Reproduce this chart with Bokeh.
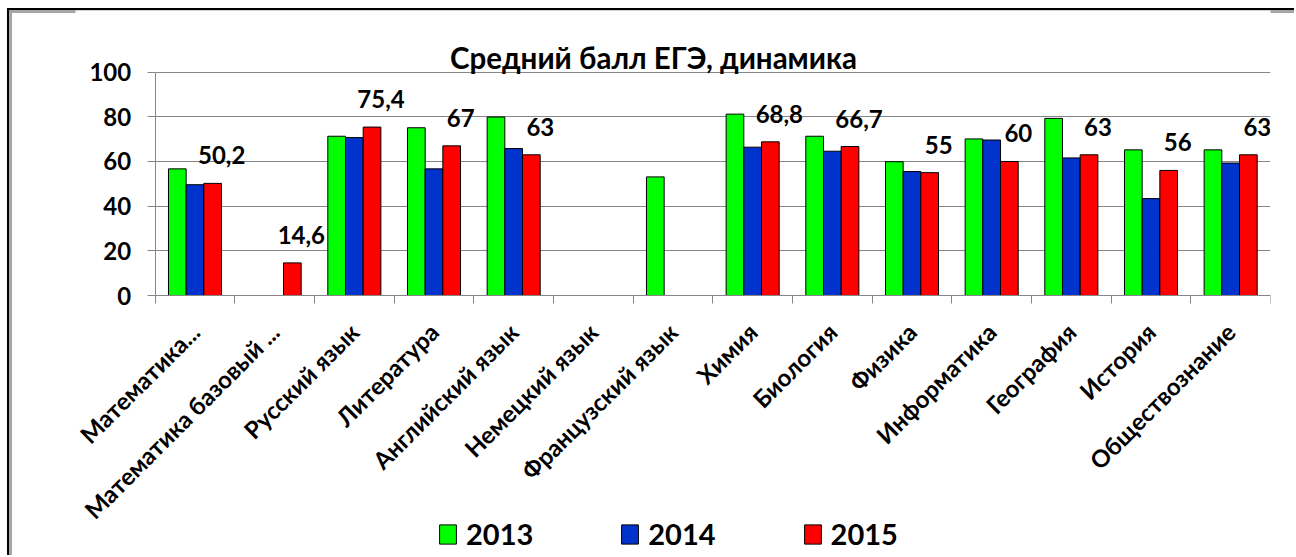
import math
import numpy as np
from bokeh.plotting import figure
from bokeh.models import (ColumnDataSource, Range1d, LinearAxis, FixedTicker, Legend, LegendItem,
                          Label)
from bokeh.transform import dodge
from bokeh.core.properties import value
from bokeh.embed import file_html
from bokeh.resources import INLINE

NaN = float("nan")

# ---- data ----
subjects = ["Математика...", "Математика базовый ...", "Русский язык", "Литература",
            "Английский язык", "Немецкий язык", "Французский язык", "Химия", "Биология",
            "Физика", "Информатика", "География", "История", "Обществознание"]
scores_2013 = [56.7, NaN, 71.3, 75.1, 79.9, NaN, 53.1, 81.2, 71.3, 59.9, 70.1, 79.3, 65.2, 65.2]
scores_2014 = [49.6, NaN, 70.7, 56.7, 65.8, NaN, NaN, 66.4, 64.6, 55.5, 69.6, 61.6, 43.4, 59.3]
scores_2015 = [50.2, 14.6, 75.4, 67, 63, NaN, NaN, 68.8, 66.7, 55, 60, 63, 56, 63]
years = ["2013", "2014", "2015"]
y_ticks = [0, 20, 40, 60, 80, 100]
title_text = "Средний балл ЕГЭ,  динамика"

FONT = "Lato"
GRAY = "#868686"
colors = ["#00FF00", "#0033CC", "#FF0000"]

n = len(subjects)
positions = list(range(1, n + 1))             # category slots 1..n
edges = [k + 0.5 for k in range(n + 1)]        # slot boundaries
labels_2015 = ["" if math.isnan(v) else f"{v:g}".replace(".", ",") for v in scores_2015]

src = ColumnDataSource(dict(
    pos=np.array(positions, dtype=float),
    subject=subjects,
    y2013=np.array(scores_2013, dtype=float),
    y2014=np.array(scores_2014, dtype=float),
    y2015=np.array(scores_2015, dtype=float),
    label2015=labels_2015,
))

# the frame fills the canvas; axes sit at value 0 / first slot boundary, so the
# title, rotated category labels and the legend are all drawn inside it
p = figure(x_range=Range1d(edges[0] - 1, edges[-1]), y_range=Range1d(-117.3, 127.6),
           width=1287, height=547, output_backend="svg", toolbar_location=None,
           x_axis_location=None,
           min_border_left=66, min_border_right=26, min_border_top=0, min_border_bottom=0,
           border_fill_color=None, outline_line_color=None)

p.styles = {"margin-left": "7px", "margin-top": "8px",
            "border-top": "2px solid #000", "border-left": "2px solid #000",
            "box-shadow": "inset 3px 3px 0 #a6a6a6"}

# y axis (at the first slot boundary, covering 0..100)
p.yaxis.fixed_location = edges[0]
p.yaxis.ticker = FixedTicker(ticks=y_ticks)
p.yaxis.bounds = (0, 100)
p.yaxis.major_tick_out = 8
p.yaxis.major_tick_in = 0
p.yaxis.minor_tick_out = 0
p.yaxis.minor_tick_in = 0
p.yaxis.axis_line_color = GRAY
p.yaxis.major_tick_line_color = GRAY
p.yaxis.major_label_standoff = 16
p.yaxis.major_label_text_font = FONT
p.yaxis.major_label_text_font_style = "bold"
p.yaxis.major_label_text_font_size = "24px"
p.yaxis.major_label_text_color = "black"
p.xgrid.grid_line_color = None
p.ygrid.grid_line_color = GRAY
try:
    p.ygrid.cross_bounds = (edges[0], edges[-1])
except Exception:
    p.ygrid.grid_line_color = None
    p.segment(x0=edges[0], x1=edges[-1], y0=y_ticks, y1=y_ticks,
              line_color=GRAY, line_width=1, level="underlay")

# x axis at value 0: boundary ticks + category labels
edge_axis = LinearAxis(ticker=FixedTicker(ticks=edges), fixed_location=0,
                       bounds=(edges[0], edges[-1]),
                       major_label_overrides={e: "" for e in edges},
                       major_label_text_font_size="0px", major_label_standoff=0,
                       major_tick_out=8, major_tick_in=0, minor_tick_out=0, minor_tick_in=0,
                       axis_line_color=GRAY, major_tick_line_color=GRAY)
cat_axis = LinearAxis(ticker=FixedTicker(ticks=positions), fixed_location=0,
                      major_label_overrides=dict(zip(positions, subjects)),
                      major_tick_out=0, major_tick_in=0, minor_tick_out=0, minor_tick_in=0,
                      axis_line_color=None, major_tick_line_color=None,
                      major_label_orientation=math.pi / 4, major_label_standoff=32,
                      major_label_text_font=FONT, major_label_text_font_style="bold",
                      major_label_text_font_size="24px", major_label_text_color="black")
p.add_layout(edge_axis, "below")
p.add_layout(cat_axis, "below")

# title
p.add_layout(Label(x=6.80, y=106.7, text=title_text, text_align="center",
                   text_baseline="middle", text_font=FONT, text_font_style="bold",
                   text_font_size="29.5px", text_color="black"))

# bars
bar_w = 0.222
renderers = []
for i, yr in enumerate(years):
    r = p.vbar(x=dodge("pos", (i - 1) * bar_w), top="y" + yr,
               width=bar_w, fill_color=colors[i], line_color="black", line_width=1,
               source=src)
    renderers.append(r)

# data labels for 2015
p.text(x=dodge("pos", bar_w), y="y2015", text="label2015", source=src,
       text_align="center", text_baseline="middle", x_offset=9, y_offset=-28,
       text_font=value(FONT), text_font_style="bold", text_font_size="24px",
       text_color="black")

# legend
legend = Legend(items=[LegendItem(label=yr, renderers=[r]) for yr, r in zip(years, renderers)],
                orientation="horizontal", location=(362, 6),
                glyph_width=21, glyph_height=24, label_standoff=8, label_width=66, spacing=86,
                padding=0, margin=0, border_line_color=None, background_fill_alpha=0,
                label_text_font=FONT, label_text_font_style="bold",
                label_text_font_size="29px", label_text_color="black")
p.add_layout(legend)

open("out.html", "w").write(file_html(p, INLINE))
